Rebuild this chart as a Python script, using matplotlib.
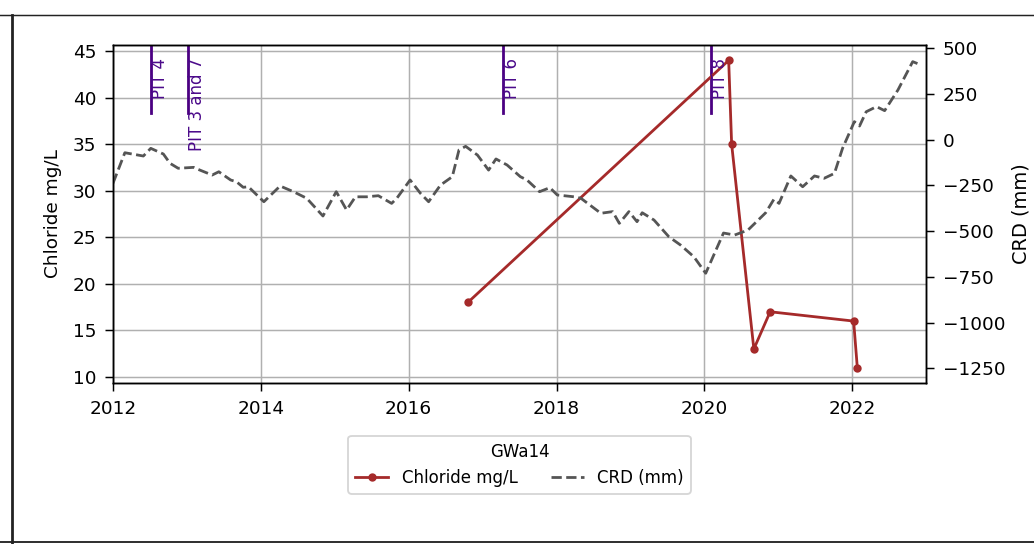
import matplotlib
matplotlib.use("Agg")
import matplotlib.pyplot as plt
import matplotlib.dates as mdates
from matplotlib.lines import Line2D
from datetime import datetime

# ---- data (decimal years) ----
chloride_years = [2016.80, 2020.33, 2020.37, 2020.67, 2020.89, 2022.02, 2022.07]
chloride_vals = [18, 44, 35, 13, 17, 16, 11]

crd_years = [2012.00, 2012.16, 2012.41, 2012.51, 2012.68, 2012.77, 2012.88, 2013.09,
             2013.15, 2013.34, 2013.43, 2013.59, 2013.67, 2013.76, 2013.83, 2014.04,
             2014.26, 2014.44, 2014.62, 2014.84, 2015.02, 2015.16, 2015.28, 2015.43,
             2015.59, 2015.77, 2015.84, 2016.02, 2016.16, 2016.27, 2016.43, 2016.59,
             2016.68, 2016.77, 2016.93, 2017.08, 2017.18, 2017.33, 2017.51, 2017.60,
             2017.77, 2017.91, 2018.01, 2018.24, 2018.33, 2018.60, 2018.76, 2018.85,
             2018.98, 2019.09, 2019.16, 2019.32, 2019.52, 2019.68, 2019.86, 2020.02,
             2020.26, 2020.41, 2020.59, 2020.83, 2020.94, 2021.01, 2021.17, 2021.33,
             2021.49, 2021.62, 2021.76, 2021.87, 2022.03, 2022.10, 2022.19, 2022.33,
             2022.44, 2022.62, 2022.82, 2022.93]
crd_vals = [-238, -71, -89, -47, -78, -129, -156, -151,
            -162, -193, -175, -220, -230, -260, -257, -339,
            -253, -284, -320, -417, -284, -384, -312, -312,
            -306, -348, -320, -220, -293, -339, -248, -202,
            -56, -36, -84, -166, -105, -138, -202, -220,
            -284, -262, -302, -312, -320, -402, -393, -457,
            -393, -448, -399, -439, -530, -576, -640, -730,
            -510, -521, -494, -399, -326, -348, -198, -257,
            -198, -211, -184, -47, 99, 75, 153, 181,
            159, 272, 427, 409]

pit_labels = ["PIT 4", "PIT 3 and 7", "PIT 6", "PIT 8"]
pit_years = [2012.51, 2013.01, 2017.27, 2020.09]

xticks_years = [2012, 2014, 2016, 2018, 2020, 2022]
left_ticks = [10, 15, 20, 25, 30, 35, 40, 45]
right_ticks = [-1250, -1000, -750, -500, -250, 0, 250, 500]


def to_date(y):
    yr = int(y)
    start = datetime(yr, 1, 1)
    end = datetime(yr + 1, 1, 1)
    return start + (end - start) * (y - yr)


DPI = 133.33
fig = plt.figure(figsize=(1034 / DPI, 544 / DPI), dpi=DPI)
ax = fig.add_axes([113 / 1034, 1 - 383 / 544, (926 - 113) / 1034, (383 - 45) / 544])
ax2 = ax.twinx()

ch_dates = [to_date(y) for y in chloride_years]
crd_dates = [to_date(y) for y in crd_years]

ax.plot(ch_dates, chloride_vals, color="#a52a2a", lw=1.5, marker="o", ms=3.5,
        label="Chloride mg/L", zorder=3)
ax2.plot(crd_dates, crd_vals, color="#555555", lw=1.5, ls="--", label="CRD (mm)")

for lab, y in zip(pit_labels, pit_years):
    d = to_date(y)
    ax.axvline(d, ymin=0.8, ymax=1.0, color="indigo", lw=1.5)
    ax.text(d, 0.962, lab, rotation=90, ha="left", va="top", color="#4b0a8a",
            fontsize=9, transform=ax.get_xaxis_transform())

ax.set_xlim(datetime(2012, 1, 1), datetime(2023, 1, 1))
ax.set_ylim(9.35, 45.65)
ax2.set_ylim(-1330, 518)
ax.set_yticks(left_ticks)
ax2.set_yticks(right_ticks)
ax.set_xticks([datetime(y, 1, 1) for y in xticks_years])
ax.xaxis.set_major_formatter(mdates.DateFormatter("%Y"))
ax.grid(True, color="#b0b0b0", lw=0.8)
ax.tick_params(labelsize=10, length=4.5, pad=4.5)
ax2.tick_params(labelsize=10, length=4.5, pad=4.5)
ax.set_ylabel("Chloride mg/L", fontsize=10, labelpad=6)
ax2.set_ylabel("CRD (mm)", fontsize=10.5, labelpad=3.5)

h1, l1 = ax.get_legend_handles_labels()
h2, l2 = ax2.get_legend_handles_labels()
leg = ax2.legend(h1 + h2, l1 + l2, title="GWa14", ncol=2, loc="upper center",
                 bbox_to_anchor=(0.5, -0.157), borderaxespad=0, fontsize=9,
                 title_fontsize=9, columnspacing=2.0)

# page frame lines
fig.add_artist(Line2D([0, 1], [1 - 15 / 544, 1 - 15 / 544], transform=fig.transFigure,
                      color="#222222", lw=0.8))
fig.add_artist(Line2D([12 / 1034, 12 / 1034], [0, 1 - 15 / 544], transform=fig.transFigure,
                      color="#222222", lw=1.5))
fig.add_artist(Line2D([0, 1], [2 / 544, 2 / 544], transform=fig.transFigure,
                      color="#222222", lw=1.0))

fig.savefig("out.png", dpi=DPI)
